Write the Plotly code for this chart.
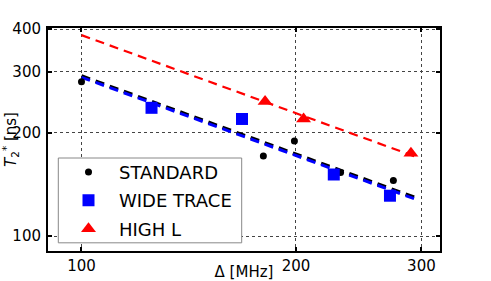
import plotly.graph_objects as go

# Data
std_x = [100, 180, 199, 231, 274]
std_y = [281, 171, 189, 153, 145]
wide_x = [125.4, 168, 226, 271]
wide_y = [236, 219, 151, 131]
high_x = [181, 205, 290]
high_y = [246, 219, 174]

fit_x = [100, 298]
fit_red = [384, 168.5]
fit_black = [292, 128]
fit_blue = [289.5, 126.8]

x_ticks = [100, 200, 300]
y_ticks = [100, 200, 300, 400]

W, H = 491, 281
L, R, T, B = 48, 51, 28, 29.5
pw, ph = W - L - R, H - T - B

fig = go.Figure()
dash = "9px,6px"
fig.add_trace(go.Scatter(x=fit_x, y=fit_red, mode="lines", showlegend=False,
                         line=dict(color="#ff0000", width=2.2, dash=dash)))
fig.add_trace(go.Scatter(x=fit_x, y=fit_black, mode="lines", showlegend=False,
                         line=dict(color="black", width=3.5, dash=dash)))
fig.add_trace(go.Scatter(x=fit_x, y=fit_blue, mode="lines", showlegend=False,
                         line=dict(color="#0000ff", width=3, dash=dash)))

fig.add_trace(go.Scatter(x=std_x, y=std_y, mode="markers", name="STANDARD", legendgroup="a",
                         marker=dict(color="black", size=7, symbol="circle")))
fig.add_trace(go.Scatter(x=wide_x, y=wide_y, mode="markers", name="WIDE TRACE", legendgroup="b",
                         marker=dict(color="#0000ff", size=12, symbol="square")))
fig.add_trace(go.Scatter(x=high_x, y=high_y, mode="markers", name="HIGH L", legendgroup="c",
                         marker=dict(color="#ff0000", size=13, symbol="triangle-up")))

def px2paper_x(px):
    return (px - L) / pw

def px2paper_y(py):
    return (H - B - py) / ph

# legend frame
fig.add_shape(type="rect", xref="paper", yref="paper",
              x0=px2paper_x(58.3), x1=px2paper_x(241.7),
              y0=px2paper_y(243.3), y1=px2paper_y(158.3),
              line=dict(color="#888888", width=1), fillcolor="white", layer="above")

axis_common = dict(
    type="log", showline=True, linecolor="black", linewidth=2, mirror="ticks",
    ticks="inside", ticklen=4, tickwidth=2, tickcolor="black",
    showgrid=True, gridcolor="#444444", gridwidth=1, griddash="dot",
    zeroline=False, automargin=False,
    tickfont=dict(family="DejaVu Sans", size=15, color="black"),
)

fig.update_xaxes(**axis_common, range=[1.953, 2.5032], tickvals=x_ticks,
                 ticktext=[str(v) for v in x_ticks],
                 title=dict(text="Δ [MHz]", font=dict(family="DejaVu Sans", size=15, color="black"),
                            standoff=8))
fig.update_yaxes(**axis_common, range=[1.9565, 2.605], tickvals=y_ticks,
                 ticktext=[str(v) for v in y_ticks], ticklabelstandoff=2,
                 title=dict(text="<i>T</i><sub>2</sub><sup>*</sup> [ns]",
                            font=dict(family="DejaVu Sans", size=15, color="black"),
                            standoff=2))

fig.update_layout(
    width=W, height=H, margin=dict(l=L, r=R, t=T, b=B),
    plot_bgcolor="white", paper_bgcolor="white",
    font=dict(family="DejaVu Sans", color="black"),
    legend=dict(x=px2paper_x(58), y=px2paper_y(154), xanchor="left", yanchor="top",
                bgcolor="rgba(0,0,0,0)", borderwidth=0,
                font=dict(family="DejaVu Sans", size=18, color="black"),
                itemwidth=51, tracegroupgap=2),
)

fig.write_html("out.html", config={"displayModeBar": False},
               post_script="document.body.style.margin='0';document.body.style.padding='0';")
